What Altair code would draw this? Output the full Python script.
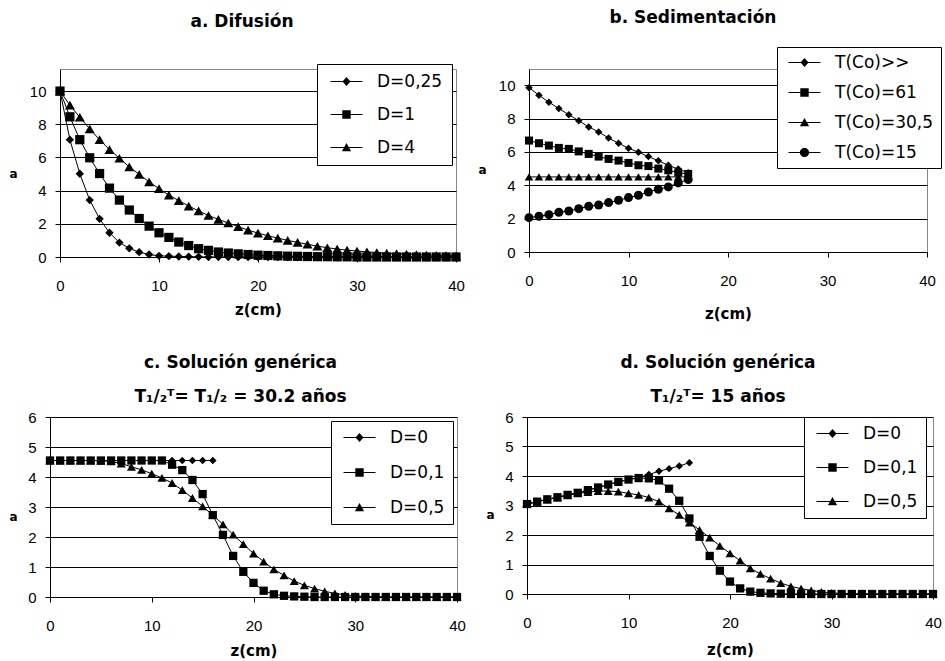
import altair as alt
import pandas as pd

FONT = "Liberation Sans"
BFONT = "DejaVu Sans"

# ---------------- data ----------------
z_full = [0, 1, 2, 3, 4, 5, 6, 7, 8, 9, 10, 11, 12, 13, 14, 15, 16, 17, 18, 19, 20,
          21, 22, 23, 24, 25, 26, 27, 28, 29, 30, 31, 32, 33, 34, 35, 36, 37, 38, 39, 40]
z_short = [0, 1, 2, 3, 4, 5, 6, 7, 8, 9, 10, 11, 12, 13, 14, 15, 16]

# a. Difusión
a_names = ["D=0,25", "D=1", "D=4"]
a_D025 = [10, 7.07, 5.02, 3.43, 2.3, 1.46, 0.87, 0.52, 0.29, 0.15, 0.07, 0.05, 0.03, 0.02, 0.01,
          0, 0, 0, 0, 0, 0, 0, 0, 0, 0, 0, 0, 0, 0, 0, 0, 0, 0, 0, 0, 0, 0, 0, 0, 0, 0]
a_D1 = [10, 8.45, 7.07, 5.98, 5.03, 4.15, 3.43, 2.83, 2.32, 1.86, 1.46, 1.18, 0.9, 0.69, 0.5,
        0.4, 0.3, 0.24, 0.19, 0.15, 0.11, 0.09, 0.07, 0.05, 0.04, 0.03, 0.02, 0.02, 0.01, 0.01,
        0, 0, 0, 0, 0, 0, 0, 0, 0, 0, 0]
a_D4 = [10, 9.15, 8.42, 7.72, 7.07, 6.47, 5.95, 5.43, 4.98, 4.53, 4.12, 3.73, 3.4, 3.07, 2.78,
        2.5, 2.27, 2.05, 1.83, 1.62, 1.44, 1.28, 1.14, 1.0, 0.88, 0.77, 0.65, 0.56, 0.48, 0.41,
        0.36, 0.31, 0.27, 0.23, 0.2, 0.17, 0.15, 0.12, 0.1, 0.08, 0.07]

# b. Sedimentación
b_names = ["T(Co)>>", "T(Co)=61", "T(Co)=30,5", "T(Co)=15"]
b_inf = [9.85, 9.4, 8.98, 8.6, 8.23, 7.87, 7.5, 7.2, 6.83, 6.52, 6.22, 5.98, 5.72, 5.47, 5.2, 4.97, 4.75]
b_61 = [6.68, 6.52, 6.38, 6.24, 6.18, 6.03, 5.88, 5.72, 5.58, 5.48, 5.34, 5.2, 5.15, 5.0, 4.9, 4.76, 4.68]
b_305 = [4.5, 4.5, 4.5, 4.5, 4.5, 4.5, 4.5, 4.5, 4.5, 4.5, 4.5, 4.5, 4.5, 4.5, 4.5, 4.5, 4.5]
b_15 = [2.06, 2.14, 2.24, 2.38, 2.46, 2.6, 2.74, 2.82, 2.96, 3.1, 3.26, 3.4, 3.6, 3.76, 3.9, 4.14, 4.34]

# c. Solución genérica (T1/2 = 30.2)
cd_names = ["D=0", "D=0,1", "D=0,5"]
c_D0 = [4.55, 4.55, 4.55, 4.55, 4.55, 4.55, 4.55, 4.55, 4.55, 4.55, 4.55, 4.55, 4.55, 4.55, 4.55, 4.55, 4.55]
c_D01 = [4.55, 4.55, 4.55, 4.55, 4.55, 4.55, 4.55, 4.55, 4.55, 4.55, 4.55, 4.55, 4.41, 4.23, 3.9,
         3.43, 2.73, 2.07, 1.37, 0.84, 0.47, 0.21, 0.09, 0.04, 0.02, 0.01,
         0, 0, 0, 0, 0, 0, 0, 0, 0, 0, 0, 0, 0, 0, 0]
c_D05 = [4.55, 4.55, 4.55, 4.55, 4.55, 4.54, 4.52, 4.45, 4.34, 4.24, 4.11, 3.97, 3.8, 3.56, 3.3,
         3.02, 2.73, 2.42, 2.08, 1.76, 1.45, 1.18, 0.92, 0.72, 0.53, 0.39, 0.28, 0.19, 0.12, 0.07,
         0.04, 0.02, 0.01, 0, 0, 0, 0, 0, 0, 0, 0]

# d. Solución genérica (T1/2 = 15)
d_D0 = [3.05, 3.13, 3.21, 3.28, 3.36, 3.43, 3.52, 3.61, 3.71, 3.8, 3.88, 3.95, 4.05, 4.16, 4.25, 4.34, 4.45]
d_D01 = [3.05, 3.13, 3.21, 3.28, 3.36, 3.43, 3.52, 3.61, 3.71, 3.8, 3.88, 3.93, 3.92, 3.85, 3.57,
         3.16, 2.56, 1.94, 1.29, 0.79, 0.42, 0.19, 0.08, 0.04, 0.02, 0.01,
         0, 0, 0, 0, 0, 0, 0, 0, 0, 0, 0, 0, 0, 0, 0]
d_D05 = [3.05, 3.13, 3.2, 3.27, 3.34, 3.41, 3.45, 3.49, 3.49, 3.47, 3.41, 3.36, 3.27, 3.13, 2.9,
         2.68, 2.42, 2.17, 1.91, 1.63, 1.38, 1.13, 0.87, 0.68, 0.52, 0.37, 0.26, 0.18, 0.12, 0.07,
         0.04, 0.02, 0.01, 0, 0, 0, 0, 0, 0, 0, 0]

x_ticks = [0, 10, 20, 30, 40]
a_ticks = [0, 2, 4, 6, 8, 10]
cd_ticks = [0, 1, 2, 3, 4, 5, 6]


def frame(series):
    rows = []
    for name, zs, vals in series:
        for zi, v in zip(zs, vals):
            rows.append({"z": zi, "v": v, "s": name})
    return pd.DataFrame(rows)


# legend symbols: a short line with the marker in its middle
LINE = "M-1,-0.13H7V0.13H-1Z "
LEG = {
    "diamond": LINE + "M2,0L3,-1.15L4,0L3,1.15Z",
    "square": LINE + "M1.95,-1.05H4.05V1.05H1.95Z",
    "triangle": LINE + "M1.85,0.95L3,-1.1L4.15,0.95Z",
    "circle": LINE + "M4.15,0A1.15,1.15 0 1,1 1.85,0A1.15,1.15 0 1,1 4.15,0Z",
}


def panel(df, names, shapes, sizes, legshapes, title, ymax, yticks, w, h,
          legx, legy, rowpad, legpad, toff, tdx, ytx, yty, xtpad, lineh=None):
    xenc = alt.X("z:Q", scale=alt.Scale(domain=[0, 40], nice=False, zero=False),
                 axis=alt.Axis(values=x_ticks, grid=False, title="z(cm)",
                               domainColor="black", tickColor="black", tickSize=5,
                               labelFont=FONT, labelFontSize=15, labelColor="black",
                               labelPadding=16, labelFlush=False,
                               titleFont=BFONT, titleFontSize=15, titleFontWeight="bold",
                               titleColor="black", titlePadding=xtpad))
    yenc = alt.Y("v:Q", scale=alt.Scale(domain=[0, ymax], nice=False, zero=True),
                 axis=alt.Axis(values=yticks, grid=True, gridColor="black", gridWidth=1,
                               domainColor="black", tickColor="black", tickSize=5,
                               labelFont=FONT, labelFontSize=15, labelColor="black",
                               labelPadding=9,
                               title="a", titleAngle=0, titleX=ytx, titleY=yty,
                               titleAlign="center", titleBaseline="middle",
                               titleFont=BFONT, titleFontSize=12, titleFontWeight="bold",
                               titleColor="black"))
    base = alt.Chart(df)
    line = base.mark_line(color="black", strokeWidth=1).encode(x=xenc, y=yenc, detail="s:N")
    pts = base.mark_point(filled=True, color="black", opacity=1).encode(
        x=xenc, y=yenc,
        shape=alt.Shape("s:N", scale=alt.Scale(domain=names, range=shapes), legend=None),
        size=alt.Size("s:N", scale=alt.Scale(domain=names, range=sizes), legend=None),
    )
    # legend-only layer: no rows survive the filter, the legend comes from the scale domain
    leg = base.transform_filter("datum.z < 0").mark_point(filled=True, color="black").encode(
        x=xenc, y=yenc,
        shape=alt.Shape("s:N", scale=alt.Scale(domain=names, range=legshapes),
                        legend=alt.Legend(title=None, orient="none", legendX=legx, legendY=legy,
                                          fillColor="white", strokeColor="black",
                                          padding=legpad, rowPadding=rowpad,
                                          symbolSize=64, symbolOpacity=1,
                                          symbolFillColor="black", symbolStrokeWidth=0,
                                          labelFont=BFONT, labelFontSize=17,
                                          labelColor="black", labelOffset=34,
                                          labelLimit=300)),
    )
    tp = dict(text=title, font=BFONT, fontSize=17, fontWeight="bold", color="black",
              offset=toff, anchor="middle", dx=tdx)
    if lineh is not None:
        tp["lineHeight"] = lineh
    return (alt.layer(line, pts, leg)
            .resolve_scale(shape="independent", size="independent")
            .properties(width=w, height=h, title=alt.TitleParams(**tp)))


def spacer():
    return (alt.Chart(pd.DataFrame({"k": [0]}))
            .mark_point(size=0, opacity=0)
            .encode(x=alt.value(0), y=alt.value(0))
            .properties(width=1, height=1, view=alt.ViewBackground(stroke="transparent")))


df_a = frame([(a_names[0], z_full, a_D025), (a_names[1], z_full, a_D1), (a_names[2], z_full, a_D4)])
df_b = frame([(b_names[0], z_short, b_inf), (b_names[1], z_short, b_61),
              (b_names[2], z_short, b_305), (b_names[3], z_short, b_15)])
df_c = frame([(cd_names[0], z_short, c_D0), (cd_names[1], z_full, c_D01), (cd_names[2], z_full, c_D05)])
df_d = frame([(cd_names[0], z_short, d_D0), (cd_names[1], z_full, d_D01), (cd_names[2], z_full, d_D05)])

pa = panel(df_a, a_names, ["diamond", "square", "triangle-up"], [70, 100, 100],
           [LEG["diamond"], LEG["square"], LEG["triangle"]],
           "a. Difusión", 11.33, a_ticks, 396, 188, 257, -5, 15, 9, 33, -16, -47, 104, 9)
pb = panel(df_b, b_names, ["diamond", "square", "triangle-up", "circle"], [56, 81, 72, 81],
           [LEG["diamond"], LEG["square"], LEG["triangle"], LEG["circle"]],
           "b. Sedimentación", 10.97, a_ticks, 398, 183, 248, -22, 12, 7, 20, -35, -47, 100, 18)
pc = panel(df_c, cd_names, ["diamond", "square", "triangle-up"], [56, 81, 81],
           [LEG["diamond"], LEG["square"], LEG["triangle"]],
           ["c. Solución genérica", "T₁/₂ᵀ= T₁/₂ = 30.2 años"], 6, cd_ticks, 407, 180,
           281, 4, 17, 8, 4, -13, -37, 99, 10, 34)
pd_ = panel(df_d, cd_names, ["diamond", "square", "triangle-up"], [56, 81, 81],
            [LEG["diamond"], LEG["square"], LEG["triangle"]],
            ["d. Solución genérica", "T₁/₂ᵀ= 15 años"], 6, cd_ticks, 406, 177,
            277, 0, 16, 8, 4, -12, -37, 97, 12, 34)

row1 = alt.hconcat(alt.hconcat(spacer(), pa, spacing=0), pb, spacing=12)
row2 = alt.hconcat(alt.hconcat(spacer(), pc, spacing=0), pd_, spacing=19)

chart = (alt.vconcat(row1, row2, spacing=31)
         .properties(padding={"left": 5, "top": 8, "right": 0, "bottom": 0}, background="white")
         .configure_view(stroke="#888888", strokeWidth=1))

chart.save("out.html", embed_options={"renderer": "svg", "actions": False})
